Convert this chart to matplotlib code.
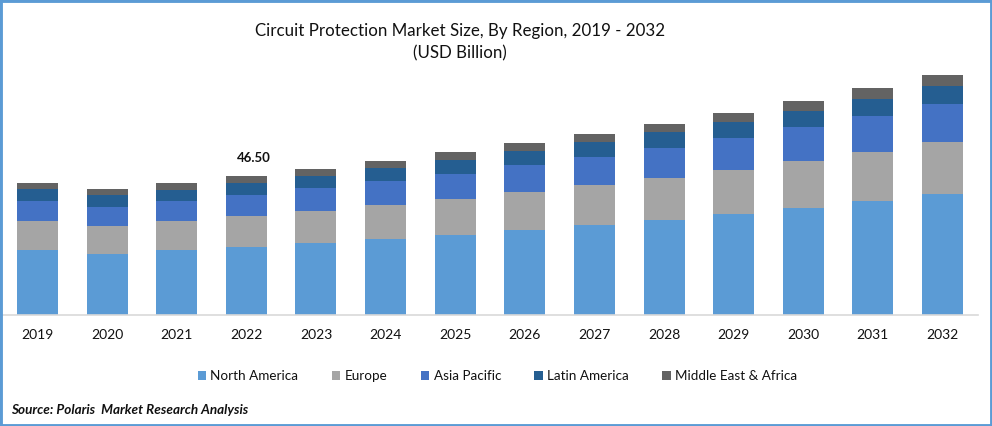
import matplotlib
matplotlib.use("Agg")
import matplotlib.pyplot as plt
from matplotlib.patches import Rectangle
import numpy as np

years = [2019, 2020, 2021, 2022, 2023, 2024, 2025, 2026, 2027, 2028, 2029, 2030, 2031, 2032]
north_america = [21.7, 20.4, 21.7, 22.7, 24.1, 25.4, 26.8, 28.4, 30.1, 31.8, 33.8, 35.8, 38.1, 40.5]
europe = [9.7, 9.4, 9.7, 10.4, 10.7, 11.4, 12.0, 12.7, 13.4, 14.0, 14.7, 15.7, 16.4, 17.4]
asia_pacific = [6.7, 6.4, 6.7, 7.0, 7.7, 8.0, 8.4, 9.0, 9.4, 10.0, 10.7, 11.4, 12.0, 12.7]
latin_america = [4.0, 3.8, 3.7, 4.0, 4.0, 4.3, 4.7, 4.7, 5.0, 5.4, 5.4, 5.4, 5.7, 6.0]
middle_east = [2.0, 2.0, 2.3, 2.4, 2.3, 2.3, 2.7, 2.7, 2.7, 2.7, 3.0, 3.3, 3.7, 3.7]

series = [
    ("North America", north_america, "#5B9BD5"),
    ("Europe", europe, "#A5A5A5"),
    ("Asia Pacific", asia_pacific, "#4472C4"),
    ("Latin America", latin_america, "#255E91"),
    ("Middle East & Africa", middle_east, "#636363"),
]
title = "Circuit Protection Market Size, By Region, 2019 - 2032\n(USD Billion)"
source = "Source: Polaris  Market Research Analysis"
label_text = "46.50"
label_year = 2022

W, H = 992, 426
plt.rcParams["font.family"] = ["Lato", "DejaVu Sans"]
fig = plt.figure(figsize=(W / 100, H / 100), dpi=100, facecolor="white")
ax = fig.add_axes([2 / W, 1 - 315 / H, 976 / W, 255 / H])

x = np.arange(len(years))
bottom = np.zeros(len(years))
for name, vals, color in series:
    ax.bar(x, vals, width=0.589, bottom=bottom, color=color, label=name, linewidth=0)
    bottom += np.array(vals)

ax.set_xlim(-0.51, 13.51)
ax.set_ylim(0, 85.3)
ax.set_yticks([])
ax.set_xticks(x)
ax.set_xticklabels([str(y) for y in years], fontsize=10, color="#111111")
ax.tick_params(axis="x", length=0, pad=10)
for s in ("top", "left", "right"):
    ax.spines[s].set_visible(False)
ax.spines["bottom"].set_color("#D9D9D9")
ax.spines["bottom"].set_linewidth(1.2)

i = years.index(label_year)
ax.annotate(label_text, xy=(i, bottom[i]), xytext=(5.5, 13), textcoords="offset points",
            ha="center", va="center", fontsize=9.5, fontweight="bold", color="#111111")

fig.text(460 / W, 1 - 42 / H, title, ha="center", va="center", fontsize=12.2,
         color="#111111", linespacing=1.5)

ax.legend(loc="center", bbox_to_anchor=(497.5 / W, 1 - 376 / H), bbox_transform=fig.transFigure,
          ncols=5, frameon=False, fontsize=9.7, handlelength=0.62, handleheight=0.62,
          handletextpad=0.33, columnspacing=2.48, labelcolor="#111111")

fig.text(11 / W, 1 - 410 / H, source, ha="left", va="center", fontsize=9.75,
         fontweight="bold", fontstyle="italic", color="#111111")

fig.add_artist(Rectangle((0, 0), 1, 1, transform=fig.transFigure, fill=False,
                         edgecolor="#5B9BD5", linewidth=3.5))

fig.savefig("out.png", dpi=100)
